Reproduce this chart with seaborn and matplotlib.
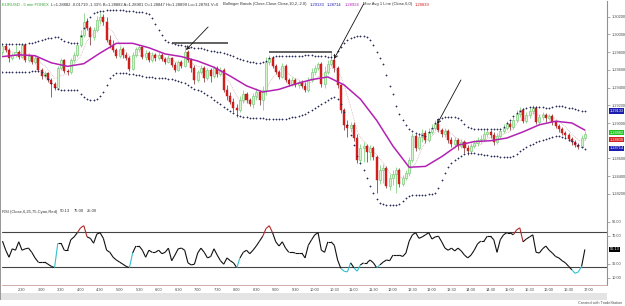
import numpy as np
import pandas as pd
import seaborn as sns
import matplotlib
matplotlib.use("Agg")
from matplotlib import pyplot as plt
from matplotlib.collections import LineCollection
from matplotlib.patches import Rectangle
import matplotlib.transforms as mtransforms

# EURUSD 5 min bars, 02:00 .. 16:55 (one value per bar)
first_open = 1.2980
close = [1.2987, 1.2983, 1.2973, 1.2977, 1.2980, 1.2975, 1.2988, 1.2971, 1.2976, 1.2969,
         1.2973, 1.2960, 1.2953, 1.2957, 1.2949, 1.2944, 1.2940, 1.2962, 1.2971, 1.2959,
         1.2958, 1.2971, 1.2977, 1.2988, 1.2999, 1.3014, 1.3007, 1.2997, 1.3005, 1.3016,
         1.3020, 1.3014, 1.2994, 1.2988, 1.2983, 1.2976, 1.2984, 1.2977, 1.2973, 1.2961,
         1.2977, 1.2984, 1.2986, 1.2975, 1.2979, 1.2971, 1.2977, 1.2973, 1.2977, 1.2972,
         1.2969, 1.2973, 1.2966, 1.2960, 1.2969, 1.2964, 1.2980, 1.2971, 1.2962, 1.2949,
         1.2958, 1.2962, 1.2951, 1.2960, 1.2953, 1.2962, 1.2955, 1.2960, 1.2937, 1.2931,
         1.2924, 1.2917, 1.2915, 1.2926, 1.2933, 1.2926, 1.2921, 1.2931, 1.2935, 1.2926,
         1.2937, 1.2969, 1.2973, 1.2964, 1.2958, 1.2952, 1.2964, 1.2949, 1.2944, 1.2949,
         1.2943, 1.2946, 1.2942, 1.2937, 1.2949, 1.2958, 1.2962, 1.2967, 1.2944, 1.2958,
         1.2967, 1.2971, 1.2962, 1.2943, 1.2915, 1.2898, 1.2894, 1.2898, 1.2883, 1.2858,
         1.2872, 1.2874, 1.2867, 1.2872, 1.2862, 1.2836, 1.2847, 1.2849, 1.2829, 1.2838,
         1.2842, 1.2847, 1.2831, 1.2838, 1.2844, 1.2858, 1.2885, 1.2872, 1.2884, 1.2889,
         1.2881, 1.2890, 1.2894, 1.2899, 1.2892, 1.2888, 1.2891, 1.2881, 1.2876, 1.2881,
         1.2874, 1.2879, 1.2872, 1.2868, 1.2874, 1.2877, 1.2881, 1.2882, 1.2888, 1.2890,
         1.2886, 1.2879, 1.2885, 1.2891, 1.2894, 1.2899, 1.2895, 1.2903, 1.2910, 1.2915,
         1.2902, 1.2909, 1.2914, 1.2917, 1.2901, 1.2907, 1.2909, 1.2906, 1.2908, 1.2901,
         1.2897, 1.2893, 1.2889, 1.2886, 1.2882, 1.2879, 1.2875, 1.2873, 1.2883, 1.2888]
high = [1.2990, 1.2989, 1.2985, 1.2979, 1.2988, 1.2983, 1.2990, 1.2989, 1.2979, 1.2977,
        1.2976, 1.2975, 1.2962, 1.2959, 1.2958, 1.2951, 1.2946, 1.2964, 1.2973, 1.2972,
        1.2961, 1.2973, 1.2980, 1.2992, 1.3005, 1.3024, 1.3019, 1.3010, 1.3008, 1.3021,
        1.3025, 1.3023, 1.3020, 1.2999, 1.2994, 1.2985, 1.2987, 1.2986, 1.2980, 1.2976,
        1.2980, 1.2986, 1.2988, 1.2987, 1.2983, 1.2981, 1.2980, 1.2979, 1.2980, 1.2979,
        1.2975, 1.2977, 1.2975, 1.2969, 1.2971, 1.2971, 1.2986, 1.2983, 1.2973, 1.2966,
        1.2960, 1.2966, 1.2964, 1.2962, 1.2962, 1.2964, 1.2964, 1.2963, 1.2962, 1.2943,
        1.2935, 1.2928, 1.2921, 1.2931, 1.2937, 1.2935, 1.2928, 1.2934, 1.2940, 1.2937,
        1.2942, 1.2975, 1.2977, 1.2976, 1.2967, 1.2960, 1.2968, 1.2967, 1.2951, 1.2952,
        1.2951, 1.2949, 1.2949, 1.2946, 1.2952, 1.2962, 1.2966, 1.2969, 1.2969, 1.2964,
        1.2971, 1.2980, 1.2973, 1.2964, 1.2944, 1.2917, 1.2903, 1.2901, 1.2901, 1.2888,
        1.2876, 1.2879, 1.2876, 1.2875, 1.2874, 1.2864, 1.2853, 1.2854, 1.2851, 1.2842,
        1.2847, 1.2850, 1.2849, 1.2841, 1.2847, 1.2862, 1.2889, 1.2888, 1.2889, 1.2893,
        1.2892, 1.2894, 1.2899, 1.2903, 1.2902, 1.2894, 1.2894, 1.2893, 1.2884, 1.2884,
        1.2883, 1.2882, 1.2881, 1.2875, 1.2877, 1.2881, 1.2884, 1.2886, 1.2892, 1.2894,
        1.2892, 1.2890, 1.2889, 1.2894, 1.2899, 1.2902, 1.2902, 1.2907, 1.2915, 1.2918,
        1.2917, 1.2912, 1.2917, 1.2920, 1.2919, 1.2910, 1.2912, 1.2911, 1.2910, 1.2910,
        1.2903, 1.2899, 1.2895, 1.2891, 1.2889, 1.2884, 1.2881, 1.2877, 1.2886, 1.2891]
low = [1.2977, 1.2980, 1.2969, 1.2971, 1.2975, 1.2972, 1.2973, 1.2969, 1.2969, 1.2967,
       1.2967, 1.2958, 1.2950, 1.2951, 1.2946, 1.2929, 1.2937, 1.2938, 1.2960, 1.2957,
       1.2954, 1.2955, 1.2969, 1.2975, 1.2986, 1.2997, 1.3005, 1.2988, 1.2994, 1.3003,
       1.3012, 1.3011, 1.2992, 1.2985, 1.2980, 1.2973, 1.2973, 1.2973, 1.2971, 1.2959,
       1.2960, 1.2975, 1.2980, 1.2972, 1.2971, 1.2969, 1.2969, 1.2970, 1.2971, 1.2970,
       1.2967, 1.2968, 1.2963, 1.2958, 1.2959, 1.2962, 1.2963, 1.2969, 1.2958, 1.2944,
       1.2946, 1.2955, 1.2946, 1.2949, 1.2946, 1.2951, 1.2952, 1.2953, 1.2935, 1.2926,
       1.2921, 1.2912, 1.2907, 1.2912, 1.2923, 1.2923, 1.2919, 1.2917, 1.2926, 1.2920,
       1.2915, 1.2932, 1.2966, 1.2962, 1.2955, 1.2950, 1.2951, 1.2946, 1.2942, 1.2942,
       1.2941, 1.2940, 1.2940, 1.2935, 1.2935, 1.2946, 1.2954, 1.2960, 1.2941, 1.2940,
       1.2955, 1.2964, 1.2958, 1.2940, 1.2911, 1.2892, 1.2884, 1.2890, 1.2880, 1.2855,
       1.2854, 1.2856, 1.2856, 1.2858, 1.2858, 1.2821, 1.2831, 1.2832, 1.2827, 1.2824,
       1.2830, 1.2821, 1.2828, 1.2829, 1.2836, 1.2840, 1.2856, 1.2868, 1.2870, 1.2879,
       1.2877, 1.2879, 1.2888, 1.2892, 1.2890, 1.2884, 1.2884, 1.2877, 1.2873, 1.2872,
       1.2870, 1.2872, 1.2866, 1.2864, 1.2866, 1.2872, 1.2874, 1.2877, 1.2880, 1.2884,
       1.2883, 1.2875, 1.2876, 1.2883, 1.2889, 1.2892, 1.2892, 1.2893, 1.2901, 1.2907,
       1.2900, 1.2900, 1.2906, 1.2910, 1.2899, 1.2899, 1.2903, 1.2901, 1.2903, 1.2898,
       1.2894, 1.2890, 1.2886, 1.2883, 1.2880, 1.2875, 1.2873, 1.2871, 1.2872, 1.2881]

# Bollinger bands (dotted) - one dot per bar
bb_upper = [1.2989, 1.2989, 1.2989, 1.2989, 1.2989, 1.2989, 1.2989, 1.2989, 1.2990, 1.2990,
            1.2992, 1.2993, 1.2994, 1.2995, 1.2996, 1.2996, 1.2997, 1.2997, 1.2995, 1.2993,
            1.2992, 1.2990, 1.2990, 1.2990, 1.2998, 1.3007, 1.3015, 1.3020, 1.3024, 1.3025,
            1.3027, 1.3027, 1.3028, 1.3028, 1.3028, 1.3028, 1.3028, 1.3028, 1.3027, 1.3027,
            1.3027, 1.3025, 1.3025, 1.3025, 1.3024, 1.3023, 1.3019, 1.3012, 1.3005, 1.2999,
            1.2994, 1.2992, 1.2990, 1.2989, 1.2988, 1.2988, 1.2987, 1.2986, 1.2986, 1.2985,
            1.2985, 1.2985, 1.2984, 1.2983, 1.2981, 1.2981, 1.2980, 1.2980, 1.2979, 1.2978,
            1.2977, 1.2976, 1.2973, 1.2972, 1.2971, 1.2970, 1.2969, 1.2969, 1.2968, 1.2968,
            1.2969, 1.2970, 1.2973, 1.2975, 1.2976, 1.2976, 1.2976, 1.2976, 1.2976, 1.2976,
            1.2976, 1.2976, 1.2976, 1.2977, 1.2977, 1.2977, 1.2976, 1.2976, 1.2976, 1.2976,
            1.2975, 1.2975, 1.2977, 1.2981, 1.2986, 1.2990, 1.2994, 1.2996, 1.2997, 1.2998,
            1.2998, 1.2998, 1.2997, 1.2994, 1.2988, 1.2980, 1.2973, 1.2967, 1.2954, 1.2942,
            1.2933, 1.2919, 1.2910, 1.2903, 1.2898, 1.2893, 1.2891, 1.2889, 1.2888, 1.2886,
            1.2885, 1.2890, 1.2894, 1.2900, 1.2905, 1.2906, 1.2907, 1.2907, 1.2907, 1.2907,
            1.2906, 1.2903, 1.2899, 1.2895, 1.2894, 1.2893, 1.2893, 1.2893, 1.2893, 1.2893,
            1.2893, 1.2893, 1.2893, 1.2893, 1.2895, 1.2900, 1.2903, 1.2908, 1.2911, 1.2914,
            1.2916, 1.2917, 1.2918, 1.2918, 1.2918, 1.2918, 1.2918, 1.2917, 1.2917, 1.2918,
            1.2919, 1.2919, 1.2919, 1.2918, 1.2917, 1.2917, 1.2916, 1.2915, 1.2914, 1.2913]
bb_lower = [1.2958, 1.2958, 1.2958, 1.2958, 1.2958, 1.2958, 1.2958, 1.2958, 1.2958, 1.2959,
            1.2959, 1.2959, 1.2958, 1.2954, 1.2950, 1.2945, 1.2941, 1.2938, 1.2937, 1.2937,
            1.2937, 1.2937, 1.2937, 1.2937, 1.2933, 1.2929, 1.2927, 1.2926, 1.2926, 1.2927,
            1.2931, 1.2935, 1.2943, 1.2951, 1.2954, 1.2957, 1.2957, 1.2957, 1.2957, 1.2955,
            1.2955, 1.2954, 1.2954, 1.2953, 1.2952, 1.2952, 1.2952, 1.2951, 1.2951, 1.2951,
            1.2951, 1.2950, 1.2950, 1.2949, 1.2947, 1.2946, 1.2945, 1.2943, 1.2941, 1.2938,
            1.2937, 1.2936, 1.2934, 1.2932, 1.2929, 1.2926, 1.2924, 1.2921, 1.2918, 1.2916,
            1.2914, 1.2911, 1.2909, 1.2908, 1.2907, 1.2907, 1.2906, 1.2906, 1.2906, 1.2906,
            1.2906, 1.2905, 1.2905, 1.2905, 1.2905, 1.2905, 1.2905, 1.2905, 1.2906, 1.2907,
            1.2907, 1.2908, 1.2909, 1.2910, 1.2912, 1.2915, 1.2917, 1.2919, 1.2921, 1.2924,
            1.2926, 1.2928, 1.2929, 1.2927, 1.2921, 1.2912, 1.2898, 1.2886, 1.2875, 1.2863,
            1.2855, 1.2847, 1.2838, 1.2829, 1.2821, 1.2814, 1.2810, 1.2808, 1.2807, 1.2807,
            1.2807, 1.2807, 1.2808, 1.2812, 1.2815, 1.2818, 1.2819, 1.2819, 1.2819, 1.2819,
            1.2819, 1.2820, 1.2820, 1.2821, 1.2827, 1.2836, 1.2844, 1.2850, 1.2855, 1.2858,
            1.2860, 1.2863, 1.2865, 1.2866, 1.2866, 1.2866, 1.2865, 1.2865, 1.2864, 1.2864,
            1.2863, 1.2863, 1.2863, 1.2862, 1.2862, 1.2862, 1.2862, 1.2863, 1.2865, 1.2868,
            1.2871, 1.2873, 1.2875, 1.2876, 1.2879, 1.2880, 1.2881, 1.2882, 1.2883, 1.2884,
            1.2885, 1.2885, 1.2884, 1.2883, 1.2881, 1.2880, 1.2877, 1.2875, 1.2873, 1.2871]
# Bollinger middle line (magenta), read every 5 bars
bb_mid_bar = [0, 5, 10, 15, 20, 25, 30, 35, 40, 45, 50, 55, 60, 65, 70, 75, 80, 85,
              90, 95, 100, 105, 110, 115, 120, 125, 130, 135, 140, 145, 150, 155, 160,
              165, 170, 175, 179]
bb_mid = [1.2975, 1.2977, 1.2976, 1.2968, 1.2964, 1.2967, 1.2979, 1.2990, 1.2990, 1.2985,
          1.2978, 1.2975, 1.2970, 1.2963, 1.2953, 1.2942, 1.2935, 1.2938, 1.2944, 1.2949,
          1.2952, 1.2943, 1.2927, 1.2903, 1.2874, 1.2850, 1.2851, 1.2862, 1.2875, 1.2879,
          1.2880, 1.2883, 1.2890, 1.2898, 1.2902, 1.2900, 1.2892]
rsi = [62, 49, 39, 51, 49, 61, 49, 51, 52, 46,
       38, 32, 32, 32, 29, 26, 24, 59, 59, 49,
       49, 64, 68, 74, 81, 84, 68, 66, 59, 72,
       74, 66, 49, 46, 39, 35, 32, 29, 26, 24,
       45, 55, 55, 49, 39, 49, 46, 46, 49, 44,
       46, 52, 34, 42, 51, 52, 49, 31, 28, 29,
       45, 52, 46, 38, 40, 51, 42, 34, 29, 38,
       34, 31, 24, 38, 46, 49, 44, 49, 55, 62,
       69, 80, 84, 74, 61, 55, 61, 52, 46, 46,
       45, 45, 45, 38, 56, 64, 71, 74, 49, 46,
       61, 61, 56, 35, 23, 19, 18, 31, 24, 19,
       28, 31, 31, 35, 31, 24, 28, 32, 35, 34,
       42, 42, 42, 40, 45, 62, 71, 74, 66, 68,
       71, 74, 65, 68, 69, 61, 52, 49, 52, 48,
       52, 48, 42, 38, 42, 49, 58, 62, 62, 69,
       69, 64, 46, 64, 71, 74, 74, 71, 78, 81,
       61, 65, 68, 71, 46, 45, 51, 55, 49, 45,
       40, 38, 34, 31, 26, 21, 16, 18, 26, 50.13]

time_labels = ["2:30", "3:00", "3:30", "4:00", "4:30", "5:00", "5:30", "6:00", "6:30", "7:00",
               "7:30", "8:00", "8:30", "9:00", "9:30", "10:00", "10:30", "11:00", "11:30", "12:00",
               "12:30", "13:00", "13:30", "14:00", "14:30", "15:00", "15:30", "16:00", "16:30", "17:00"]
time_label_bar = list(range(6, 181, 6))
# 1.28800 sits under the last-value flags, so it is not shown
price_ticks = [1.282, 1.284, 1.286, 1.290, 1.292, 1.294, 1.296, 1.298, 1.300, 1.302]
rsi_ticks = [10, 30, 70, 90]

# last-value flags on the right scale (placed so they do not overlap)
price_flags = [(1.29133, "1.29133", "#1c1cb0"), (1.28892, "1.28882", "#22c422"),
               (1.28812, "1.28839", "#d42020"), (1.28714, "1.28714", "#1c1cb0")]
# hand drawn arrows (tail -> tip) and lines, in bar / price units
arrows = [((63.2, 1.30085), (56.4, 1.29825)),
          ((111.0, 1.30345), (101.9, 1.29723)),
          ((140.9, 1.29486), (133.6, 1.28989))]
marks = [(1.29904, 52.1, 69.3), (1.29802, 81.9, 101.3)]

title_parts = [("EURUSD - 5 min FOREX", "#2ea02e"),
               ("L=1.28882 -0.01719 -1.33% B=1.28882 A=1.28901 O=1.28847 "
                "Hi=1.28899 Lo=1.28781 V=0", "#333333"),
               ("Bollinger Bands (Close,Close,Close,10,2,-2.0)", "#333333"),
               ("1.29133", "#1c1cb0"), ("1.28714", "#1c1cb0"), ("1.28924", "#b321b3"),
               ("Mov Avg 1 Line (Close,6,0)", "#333333"), ("1.28839", "#d42020")]
rsi_parts = [("RSI (Close,6,25,75,Cyan,Red)", "#333333"), ("50.13", "#333333"),
             ("75.00", "#333333"), ("25.00", "#333333")]

sns.set_style("white")
plt.rcParams["font.family"] = ["Liberation Sans", "DejaVu Sans"]

df = pd.DataFrame({"close": close, "high": high, "low": low,
                   "upper": bb_upper, "lower": bb_lower, "rsi": rsi})
df["open"] = [first_open] + close[:-1]
df["bar"] = np.arange(len(df))
df["up"] = df["close"] >= df["open"]
df["ma6"] = df["close"].rolling(6, min_periods=1).mean()

W, H = 625, 306
fig = plt.figure(figsize=(W / 100, H / 100), dpi=100)
renderer = fig.canvas.get_renderer()


def px_axes(x0, y0, x1, y1):
    return fig.add_axes([x0 / W, 1 - y1 / H, (x1 - x0) / W, (y1 - y0) / H])


def text_row(y, parts, x0, x1, gap=3.0, base=4.0):
    # measure at a base size, then scale the font so the row ends at x1
    tmp = [fig.text(0, 0, s, fontsize=base) for s, _ in parts]
    widths = [t.get_window_extent(renderer).width for t in tmp]
    for t in tmp:
        t.remove()
    fs = base * (x1 - x0 - gap * (len(parts) - 1)) / sum(widths)
    x = x0
    for (s, col), w in zip(parts, widths):
        fig.text(x / W, 1 - y / H, s, fontsize=fs, color=col, va="center", ha="left")
        x += w * fs / base + gap


ax = px_axes(2, 1, 607, 208)
ax_rsi = px_axes(2, 208, 607, 285)
xlim = (-0.15, 185.8)

# --- price panel ---
up = df[df["up"]]
dn = df[~df["up"]]
ax.vlines(up["bar"], up["low"], up["high"], color="#86d486", lw=0.6, zorder=2)
ax.vlines(dn["bar"], dn["low"], dn["high"], color="#8a4a4a", lw=0.6, zorder=2)
ax.bar(up["bar"], (up["close"] - up["open"]).clip(lower=0.00003), bottom=up["open"],
       width=0.62, color="#d4f5cc", edgecolor="#7ccc7c", linewidth=0.5, zorder=3)
ax.bar(dn["bar"], dn["close"] - dn["open"], bottom=dn["open"], width=0.62,
       color="#d81e1e", edgecolor="#c01818", linewidth=0.3, zorder=3)

ax.plot(df["bar"], df["ma6"], color="#c89a9a", lw=0.5, ls=(0, (1, 1.4)), zorder=2.5)
sns.lineplot(x=bb_mid_bar, y=bb_mid, color="#b321b3", lw=1.1, ax=ax, zorder=4)
sns.scatterplot(x=df["bar"], y=df["upper"], marker="+", s=4, color="#2e2e5e",
                linewidth=0.55, ax=ax, zorder=4, legend=False)
sns.scatterplot(x=df["bar"], y=df["lower"], marker="+", s=4, color="#2e2e5e",
                linewidth=0.55, ax=ax, zorder=4, legend=False)

for price, b0, b1 in marks:
    ax.hlines(price, b0, b1, color="#555555", lw=1.3, zorder=5)
for (tb, tp), (hb, hp) in arrows:
    ax.annotate("", xy=(hb, hp), xytext=(tb, tp), annotation_clip=False,
                arrowprops=dict(arrowstyle="->", lw=0.6, color="#111111",
                                mutation_scale=6, shrinkA=0, shrinkB=0), zorder=6)

ax.set_xlim(*xlim)
ax.set_ylim(1.28040, 1.30378)
ax.set_xticks([])
ax.yaxis.tick_right()
ax.set_yticks(price_ticks)
ax.set_yticklabels([f"{p:.5f}" for p in price_ticks])
ax.tick_params(axis="y", length=2, width=0.5, color="#888888", pad=1.5,
               labelsize=2.8, labelcolor="#444444")
ax.set_xlabel("")
ax.set_ylabel("")
for side in ["top", "left", "bottom"]:
    ax.spines[side].set_visible(False)
ax.spines["right"].set_color("#b88080")
ax.spines["right"].set_linewidth(0.8)

trans = mtransforms.blended_transform_factory(ax.transAxes, ax.transData)
for price, txt, col in price_flags:
    ax.text(1.004, price, txt, transform=trans, fontsize=2.8, color="white",
            va="center", ha="left", zorder=10, clip_on=False,
            bbox=dict(boxstyle="square,pad=0.2", fc=col, ec=col, lw=0))

# --- RSI panel ---
pts = np.column_stack([df["bar"], df["rsi"]])
segs = np.stack([pts[:-1], pts[1:]], axis=1)
r = df["rsi"].to_numpy()
seg_colors = []
for k in range(len(r) - 1):
    if r[k] > 75 or r[k + 1] > 75:
        seg_colors.append("#b02828")
    elif r[k] < 25:
        seg_colors.append("#30c0d0")
    else:
        seg_colors.append("#111111")
ax_rsi.add_collection(LineCollection(segs, colors=seg_colors, linewidths=0.8, zorder=3))
ax_rsi.axhline(75, color="#444444", lw=0.8, zorder=2)
ax_rsi.axhline(25, color="#444444", lw=0.8, zorder=2)
ax_rsi.set_xlim(*xlim)
ax_rsi.set_ylim(-0.7, 109.3)
ax_rsi.yaxis.tick_right()
ax_rsi.set_yticks(rsi_ticks)
ax_rsi.set_yticklabels([f"{v:.2f}" for v in rsi_ticks])
ax_rsi.set_xticks(time_label_bar)
ax_rsi.set_xticklabels(time_labels)
ax_rsi.tick_params(axis="y", length=2, width=0.5, color="#888888", pad=1.5,
                   labelsize=2.8, labelcolor="#444444")
ax_rsi.tick_params(axis="x", length=0, pad=2.2, labelsize=2.8, labelcolor="#444444")
for side in ["top", "left"]:
    ax_rsi.spines[side].set_visible(False)
ax_rsi.spines["right"].set_color("#b88080")
ax_rsi.spines["right"].set_linewidth(0.8)
ax_rsi.spines["bottom"].set_color("#c8a0a0")
ax_rsi.spines["bottom"].set_linewidth(0.6)
trans_r = mtransforms.blended_transform_factory(ax_rsi.transAxes, ax_rsi.transData)
ax_rsi.text(1.004, r[-1], f"{r[-1]:.2f}", transform=trans_r, fontsize=2.8, color="white",
            va="center", ha="left", zorder=10, clip_on=False,
            bbox=dict(boxstyle="square,pad=0.2", fc="black", ec="black", lw=0))

# --- window chrome and headers ---
fig.patches.append(Rectangle((0, 1 - 300 / H), 607 / W, 7 / H, transform=fig.transFigure,
                             fc="#e4e4e4", ec="none", zorder=0))
fig.patches.append(Rectangle((0, 1 - 300 / H), 1.2 / W, 300 / H, transform=fig.transFigure,
                             fc="#9a9a9a", ec="none", zorder=0))
fig.text(578 / W, 1 - 302.5 / H, "Created with TradeStation", fontsize=2.8,
         color="#555555", va="center", ha="left")

text_row(4.5, title_parts, 2, 430)
text_row(211.5, rsi_parts, 2, 97)

fig.savefig("out.png", dpi=100)
